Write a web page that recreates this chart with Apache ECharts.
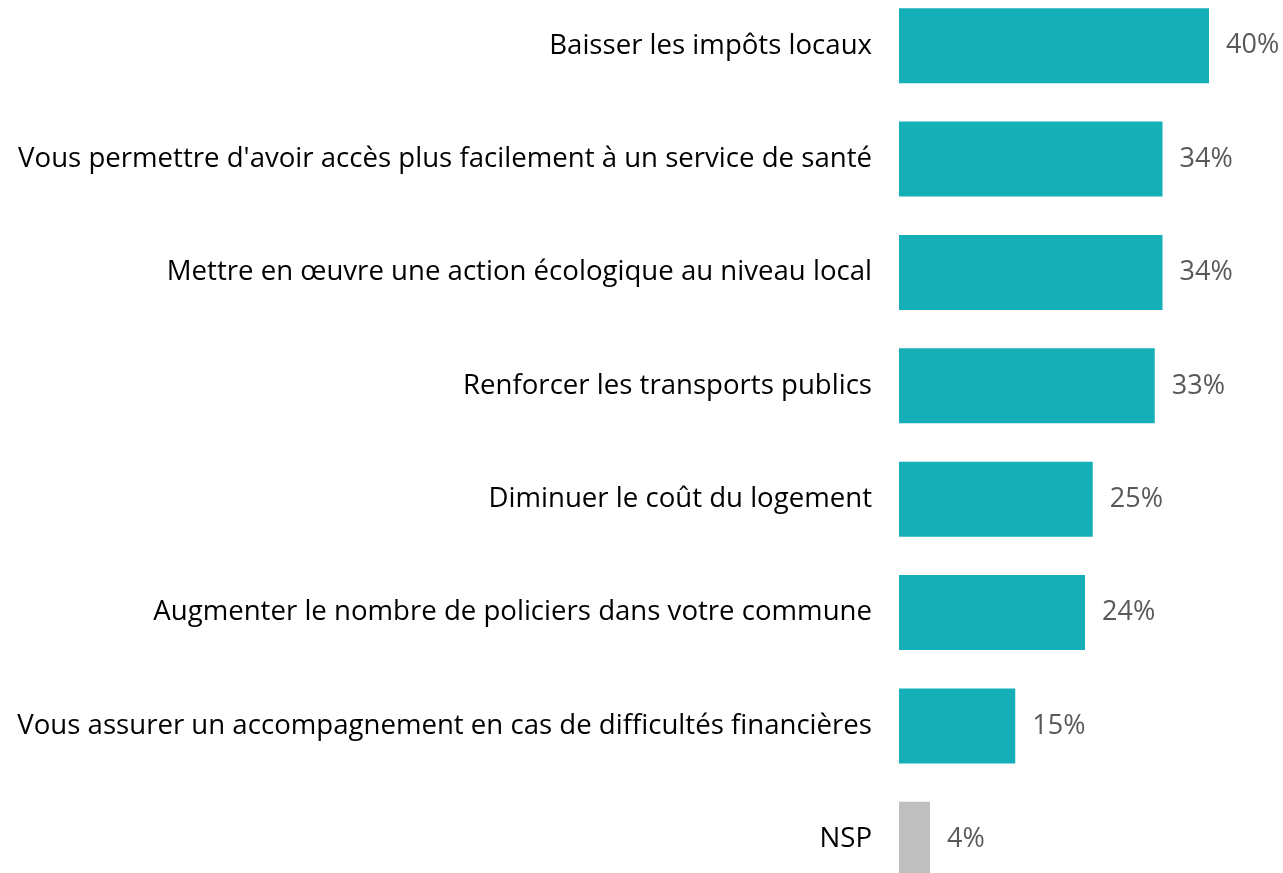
<!DOCTYPE html>
<html>
<head>
<meta charset="utf-8">
<script src="https://cdn.jsdelivr.net/npm/echarts@6/dist/echarts.min.js"></script>
<style>html,body{margin:0;padding:0;background:#fff;overflow:hidden}#c{position:absolute;left:0;top:-11px;width:1283px;height:907px}</style>
</head>
<body>
<div id="c"></div>
<script>
const categories = [
  "Baisser les impôts locaux",
  "Vous permettre d'avoir accès plus facilement à un service de santé",
  "Mettre en œuvre une action écologique au niveau local",
  "Renforcer les transports publics",
  "Diminuer le coût du logement",
  "Augmenter le nombre de policiers dans votre commune",
  "Vous assurer un accompagnement en cas de difficultés financières",
  "NSP"
];
const values = [40, 34, 34, 33, 25, 24, 15, 4];
const colors = ["#14AFB7","#14AFB7","#14AFB7","#14AFB7","#14AFB7","#14AFB7","#14AFB7","#BFBFBF"];

const chart = echarts.init(document.getElementById('c'));
chart.setOption({
  animation: false,
  grid: { left: 899, right: 12, top: 0, bottom: 0, containLabel: false },
  xAxis: { type: 'value', min: 0, max: 48, show: false },
  yAxis: {
    type: 'category', inverse: true, data: categories,
    axisLine: { show: false }, axisTick: { show: false },
    axisLabel: { margin: 27, color: '#000', fontFamily: 'Open Sans', fontSize: 27.6 }
  },
  series: [{
    type: 'bar', barWidth: 75,
    data: values.map((v, i) => ({ value: v, itemStyle: { color: colors[i] } })),
    label: { show: true, position: 'right', distance: 17, formatter: '{c}%', color: '#595959', fontFamily: 'Open Sans', fontSize: 27 }
  }]
});
</script>
</body>
</html>
